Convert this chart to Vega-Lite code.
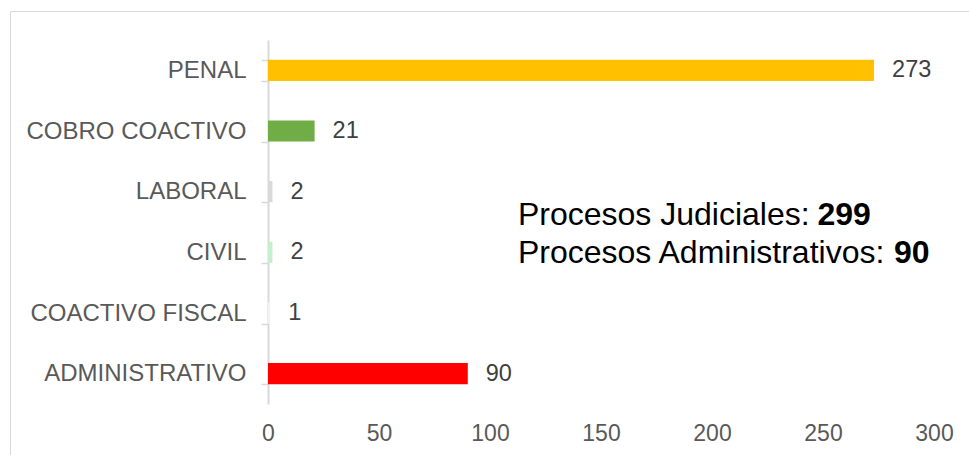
{
  "$schema": "https://vega.github.io/schema/vega-lite/v6.json",
  "width": 959,
  "height": 444,
  "autosize": {"type": "none"},
  "padding": {"left": 10, "top": 11, "right": 0, "bottom": 0},
  "background": "white",
  "config": {
    "font": "Liberation Sans",
    "view": {"stroke": "#d9d9d9", "strokeWidth": 1}
  },
  "data": {
    "values": [
      {"categoria": "PENAL", "valor": 273},
      {"categoria": "COBRO COACTIVO", "valor": 21},
      {"categoria": "LABORAL", "valor": 2},
      {"categoria": "CIVIL", "valor": 2},
      {"categoria": "COACTIVO FISCAL", "valor": 1},
      {"categoria": "ADMINISTRATIVO", "valor": 90}
    ]
  },
  "layer": [
    {
      "mark": {"type": "bar"},
      "encoding": {
        "y": {
          "field": "categoria",
          "type": "nominal",
          "sort": null,
          "scale": {
            "domain": ["PENAL", "COBRO COACTIVO", "LABORAL", "CIVIL", "COACTIVO FISCAL", "ADMINISTRATIVO"],
            "range": [29, 393],
            "paddingInner": 0.65,
            "paddingOuter": 0.325
          },
          "axis": {
            "title": null,
            "offset": -258,
            "domainColor": "#d9d9d9",
            "domainWidth": 2,
            "tickColor": "#d9d9d9",
            "tickWidth": 1.5,
            "tickSize": 7,
            "tickBand": "extent",
            "labelFont": "Liberation Sans",
            "labelFontSize": 24,
            "labelColor": "#595959",
            "labelPadding": 15,
            "labelLimit": 400
          }
        },
        "x": {
          "field": "valor",
          "type": "quantitative",
          "scale": {"domain": [0, 300], "range": [258, 924], "nice": false},
          "axis": {
            "title": null,
            "values": [0, 50, 100, 150, 200, 250, 300],
            "domain": false,
            "ticks": false,
            "tickSize": 0,
            "grid": false,
            "labelFlush": false,
            "offset": -51,
            "labelFont": "Liberation Sans",
            "labelFontSize": 23,
            "labelColor": "#595959",
            "labelPadding": 18
          }
        },
        "color": {
          "field": "categoria",
          "type": "nominal",
          "scale": {
            "domain": ["PENAL", "COBRO COACTIVO", "LABORAL", "CIVIL", "COACTIVO FISCAL", "ADMINISTRATIVO"],
            "range": ["#FFC000", "#70AD47", "#D9D9D9", "#C6EFCE", "#F2F2F2", "#FF0000"]
          },
          "legend": null
        }
      }
    },
    {
      "mark": {"type": "text", "align": "left", "baseline": "middle", "dx": 18, "fontSize": 23.5, "color": "#404040"},
      "encoding": {
        "y": {"field": "categoria", "type": "nominal", "sort": null},
        "x": {"field": "valor", "type": "quantitative"},
        "text": {"field": "valor", "type": "quantitative"}
      }
    },
    {
      "data": {"values": [{"texto": "Procesos Judiciales:"}]},
      "mark": {"type": "text", "align": "left", "baseline": "alphabetic", "fontSize": 32, "color": "#000000", "dy": -27},
      "encoding": {
        "x": {"datum": 112.6, "type": "quantitative"},
        "y": {"datum": "CIVIL", "type": "nominal"},
        "text": {"field": "texto", "type": "nominal"}
      }
    },
    {
      "data": {"values": [{"texto": "299"}]},
      "mark": {"type": "text", "align": "left", "baseline": "alphabetic", "fontSize": 32, "fontWeight": "bold", "color": "#000000", "dy": -27},
      "encoding": {
        "x": {"datum": 247.5, "type": "quantitative"},
        "y": {"datum": "CIVIL", "type": "nominal"},
        "text": {"field": "texto", "type": "nominal"}
      }
    },
    {
      "data": {"values": [{"texto": "Procesos Administrativos:"}]},
      "mark": {"type": "text", "align": "left", "baseline": "alphabetic", "fontSize": 32, "color": "#000000", "dy": 11},
      "encoding": {
        "x": {"datum": 112.6, "type": "quantitative"},
        "y": {"datum": "CIVIL", "type": "nominal"},
        "text": {"field": "texto", "type": "nominal"}
      }
    },
    {
      "data": {"values": [{"texto": "90"}]},
      "mark": {"type": "text", "align": "left", "baseline": "alphabetic", "fontSize": 32, "fontWeight": "bold", "color": "#000000", "dy": 11},
      "encoding": {
        "x": {"datum": 282, "type": "quantitative"},
        "y": {"datum": "CIVIL", "type": "nominal"},
        "text": {"field": "texto", "type": "nominal"}
      }
    }
  ]
}
